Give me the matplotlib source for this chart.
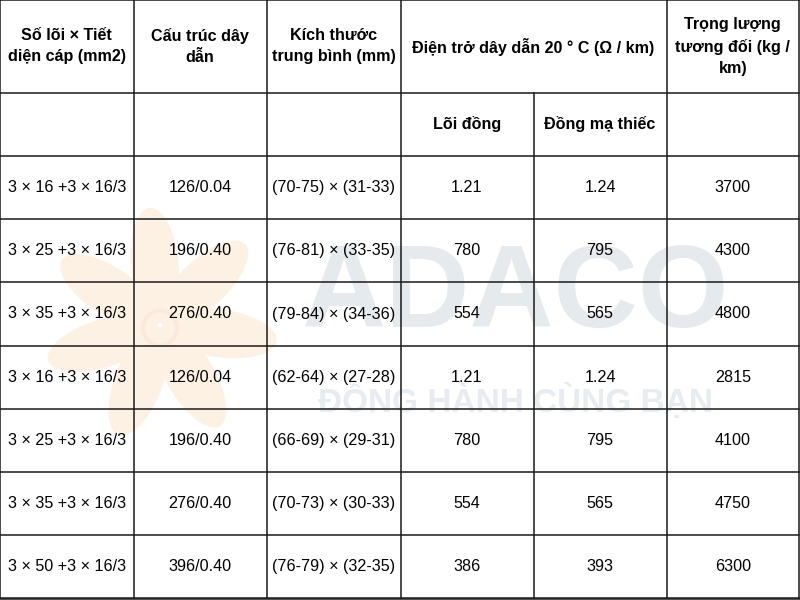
import math

import matplotlib.pyplot as plt
from matplotlib.patches import Ellipse

plt.rcParams["font.family"] = ["Liberation Sans", "DejaVu Sans"]

# table contents
header_top = ["Số lõi × Tiết\ndiện cáp (mm2)", "Cấu trúc dây\ndẫn", "Kích thước\ntrung bình (mm)",
              "Điện trở dây dẫn 20 ° C (Ω / km)", "Trọng lượng\ntương đối (kg /\nkm)"]
header_sub = ["Lõi đồng", "Đồng mạ thiếc"]
sizes = ["3 × 16 +3 × 16/3", "3 × 25 +3 × 16/3", "3 × 35 +3 × 16/3", "3 × 16 +3 × 16/3",
         "3 × 25 +3 × 16/3", "3 × 35 +3 × 16/3", "3 × 50 +3 × 16/3"]
structure = ["126/0.04", "196/0.40", "276/0.40", "126/0.04", "196/0.40", "276/0.40", "396/0.40"]
dimensions = ["(70-75) × (31-33)", "(76-81) × (33-35)", "(79-84) × (34-36)", "(62-64) × (27-28)",
              "(66-69) × (29-31)", "(70-73) × (30-33)", "(76-79) × (32-35)"]
res_copper = ["1.21", "780", "554", "1.21", "780", "554", "386"]
res_tinned = ["1.24", "795", "565", "1.24", "795", "565", "393"]
weight = ["3700", "4300", "4800", "2815", "4100", "4750", "6300"]

col_x = [0, 133.5, 267, 400.5, 533.5, 666.5, 799]
row_y = [0, 93, 156] + [156 + 63.2 * (i + 1) for i in range(7)]

fig = plt.figure(figsize=(8, 6), dpi=100)
ax = fig.add_axes([0, 0, 1, 1])
ax.set_xlim(0, 800)
ax.set_ylim(600, 0)
ax.axis("off")

# watermark: flower logo
petal_c = "#fdf1e4"
cx, cy = 160, 325
for k in range(7):
    ang = 95 + k * 360 / 7
    r = 60
    px = cx + r * math.cos(math.radians(ang))
    py = cy - r * math.sin(math.radians(ang))
    ax.add_patch(Ellipse((px, py), 48, 115, angle=-(ang - 90), color=petal_c, lw=0, zorder=0))
ax.add_patch(Ellipse((cx, cy + 3), 34, 34, fill=False, ec="#fbeadb", lw=3, zorder=0))

# watermark: brand text
ax.text(515, 296, "ADACO", fontsize=84, fontweight="bold", color="#e5eaef",
        ha="center", va="center", zorder=0)
ax.text(515, 401, "ĐỒNG HÀNH CÙNG BẠN", fontsize=24, fontweight="bold", color="#e7ecf0",
        ha="center", va="center", zorder=0)

lc = "#1a1a1a"
lw = 1.1
# horizontal lines
for y in row_y:
    ax.plot([col_x[0], col_x[-1]], [y, y], color=lc, lw=lw)
ax.plot([0, 800], [599, 599], color=lc, lw=lw)
# vertical lines (no divider between the two resistance columns in the top header)
for i, x in enumerate(col_x):
    y0 = row_y[1] if i == 4 else row_y[0]
    ax.plot([x, x], [y0, row_y[-1]], color=lc, lw=lw)

centers = [(col_x[i] + col_x[i + 1]) / 2 for i in range(6)]
hy = (row_y[0] + row_y[1]) / 2
fs = 11.6
for i in range(3):
    ax.text(centers[i], hy, header_top[i], ha="center", va="center", fontsize=fs,
            fontweight="bold", linespacing=1.5)
ax.text(col_x[4], hy, header_top[3], ha="center", va="center", fontsize=fs, fontweight="bold")
ax.text(centers[5], hy, header_top[4], ha="center", va="center", fontsize=fs,
        fontweight="bold", linespacing=1.5)
sy = (row_y[1] + row_y[2]) / 2
ax.text(centers[3], sy, header_sub[0], ha="center", va="center", fontsize=fs, fontweight="bold")
ax.text(centers[4], sy, header_sub[1], ha="center", va="center", fontsize=fs, fontweight="bold")

cols = [sizes, structure, dimensions, res_copper, res_tinned, weight]
for r in range(7):
    y = (row_y[r + 2] + row_y[r + 3]) / 2
    for c, data in enumerate(cols):
        ax.text(centers[c], y, data[r], ha="center", va="center", fontsize=fs)

fig.savefig("out.png", dpi=100)
